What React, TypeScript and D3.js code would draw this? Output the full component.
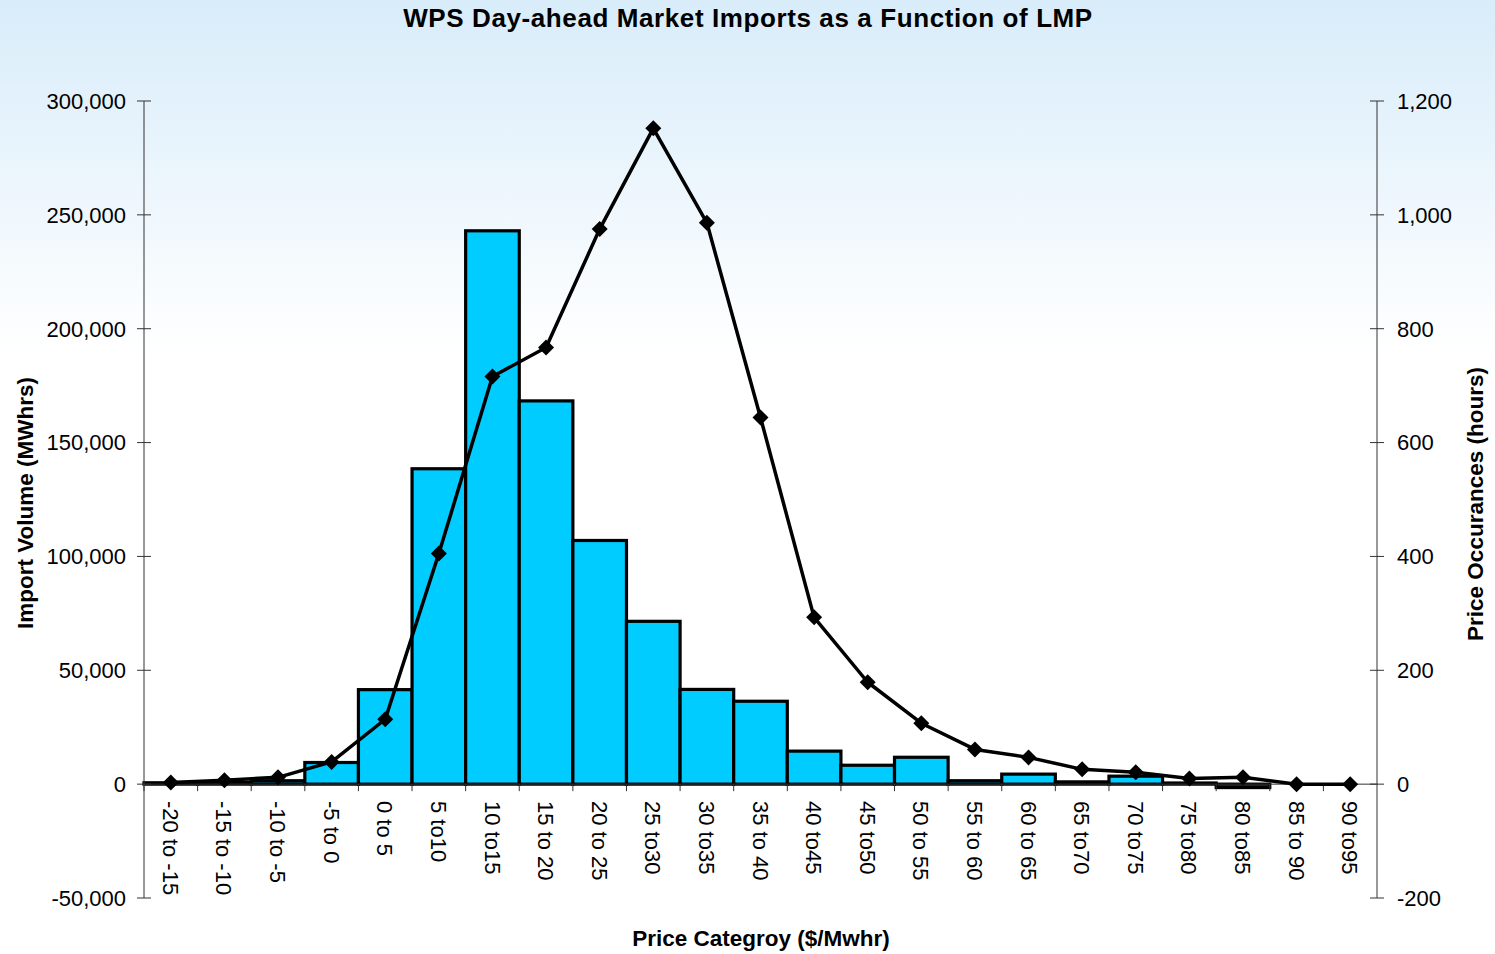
import React from "react";
import * as d3 from "d3";

const categories = [
  "-20 to -15", "-15 to -10", "-10 to -5", "-5 to 0", "0 to 5", "5 to10", "10 to15",
  "15 to 20", "20 to 25", "25 to30", "30 to35", "35 to 40", "40 to45", "45 to50",
  "50 to 55", "55 to 60", "60 to 65", "65 to70", "70 to75", "75 to80", "80 to85",
  "85 to 90", "90 to95",
];

// import volume (MWhrs), left axis
const importVolume = [
  600, 800, 1500, 9500, 41500, 138500, 243000, 168300, 107000, 71500, 41600, 36400,
  14500, 8300, 11800, 1500, 4400, 1000, 3500, 500, -1500, 0, 0,
];

// price occurrences (hours), right axis
const priceHours = [
  3, 7, 12, 39, 114, 405, 716, 767, 975, 1152, 986, 644, 293, 179, 107, 61, 47, 26,
  21, 10, 12, 0, 0,
];

const leftTicks = [-50000, 0, 50000, 100000, 150000, 200000, 250000, 300000];
const rightTicks = [-200, 0, 200, 400, 600, 800, 1000, 1200];

const W = 1495;
const H = 954;
const FONT = "'Liberation Sans', Arial, Helvetica, sans-serif";

export default function App() {
  const x = d3.scaleBand<string>().domain(categories).range([144, 1377]).padding(0);
  const yL = d3.scaleLinear().domain([-50000, 300000]).range([898, 101]);
  const yR = d3.scaleLinear().domain([-200, 1200]).range([898, 101]);
  const fmt = d3.formatLocale({ decimal: ".", thousands: ",", grouping: [3], currency: ["$", ""], minus: "-" }).format(",");

  const line = d3
    .line<number>()
    .x((_, i) => x(categories[i])! + x.bandwidth() / 2)
    .y((d) => yR(d));

  const zeroY = yL(0);

  return (
    <svg
      width={W}
      height={H}
      style={{ position: "absolute", left: 0, top: 0, display: "block" }}
      fontFamily={FONT}
    >
      <defs>
        <linearGradient id="bg" x1="0" y1="0" x2="0" y2="1">
          <stop offset="0" stopColor="#d8ecfa" />
          <stop offset="0.37" stopColor="#ffffff" />
          <stop offset="1" stopColor="#ffffff" />
        </linearGradient>
      </defs>
      <rect x={0} y={0} width={W} height={H} fill="url(#bg)" />

      {/* title */}
      <text x={748} y={27} textAnchor="middle" fontSize={26} fontWeight="bold" letterSpacing={0.6}>
        WPS Day-ahead Market Imports as a Function of LMP
      </text>

      {/* bars */}
      {importVolume.map((v, i) => (
        <rect
          key={categories[i]}
          x={x(categories[i])!}
          y={yL(Math.max(0, v))}
          width={x.bandwidth()}
          height={Math.abs(yL(v) - zeroY)}
          fill="#00ccff"
          stroke="#000"
          strokeWidth={3.2}
        />
      ))}

      {/* left axis */}
      <line x1={144} x2={144} y1={yL(300000)} y2={yL(-50000)} stroke="#333" strokeWidth={1} />
      {leftTicks.map((t) => (
        <g key={t}>
          <line x1={137} x2={151} y1={yL(t)} y2={yL(t)} stroke="#333" strokeWidth={1} />
          <text x={126} y={yL(t)} dy="0.36em" textAnchor="end" fontSize={22}>
            {fmt(t)}
          </text>
        </g>
      ))}

      {/* right axis */}
      <line x1={1377} x2={1377} y1={yR(1200)} y2={yR(-200)} stroke="#333" strokeWidth={1} />
      {rightTicks.map((t) => (
        <g key={t}>
          <line x1={1370} x2={1384} y1={yR(t)} y2={yR(t)} stroke="#333" strokeWidth={1} />
          <text x={1397} y={yR(t)} dy="0.36em" textAnchor="start" fontSize={22}>
            {fmt(t)}
          </text>
        </g>
      ))}

      {/* x axis */}
      <line x1={144} x2={1377} y1={zeroY} y2={zeroY} stroke="#333" strokeWidth={1} />
      {categories.map((c) => (
        <line
          key={"t" + c}
          x1={x(c)!}
          x2={x(c)!}
          y1={zeroY}
          y2={zeroY + 7}
          stroke="#333"
          strokeWidth={1}
        />
      ))}
      {categories.map((c) => (
        <text
          key={"l" + c}
          transform={`translate(${x(c)! + x.bandwidth() / 2},801) rotate(90)`}
          dy="0.36em"
          textAnchor="start"
          fontSize={22}
        >
          {c}
        </text>
      ))}

      {/* price occurrences line */}
      <path d={line(priceHours)!} fill="none" stroke="#000" strokeWidth={3.5} strokeLinejoin="round" />
      {priceHours.map((v, i) => {
        const cx = x(categories[i])! + x.bandwidth() / 2;
        const cy = yR(v);
        const r = 8;
        return (
          <path
            key={"m" + i}
            d={`M${cx},${cy - r}L${cx + r},${cy}L${cx},${cy + r}L${cx - r},${cy}Z`}
            fill="#000"
          />
        );
      })}

      {/* axis titles */}
      <text
        transform={`translate(33,503) rotate(-90)`}
        textAnchor="middle"
        fontSize={22.5}
        fontWeight="bold"
      >
        Import Volume (MWhrs)
      </text>
      <text
        transform={`translate(1483,504) rotate(-90)`}
        textAnchor="middle"
        fontSize={22.5}
        fontWeight="bold"
      >
        Price Occurances (hours)
      </text>
      <text x={761} y={946} textAnchor="middle" fontSize={22.5} fontWeight="bold">
        Price Categroy ($/Mwhr)
      </text>
    </svg>
  );
}
